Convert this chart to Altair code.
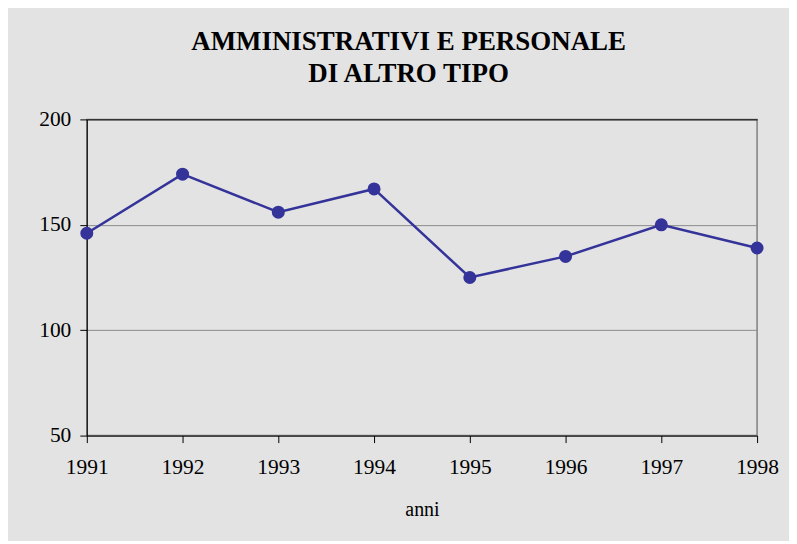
import altair as alt
import pandas as pd

years = ["1991", "1992", "1993", "1994", "1995", "1996", "1997", "1998"]
values = [146, 174, 156, 167, 125, 135, 150, 139]

df = pd.DataFrame({"anno": years, "valore": values})

FONT = "Liberation Serif"

x = alt.X("anno:O", scale=alt.Scale(type="point", padding=0),
          axis=alt.Axis(title="anni", labelAngle=0, labelFont=FONT, labelFontSize=21.5,
                        titleFont=FONT, titleFontSize=20, titleFontWeight="normal",
                        labelColor="black", titleColor="black",
                        domainColor="black", tickColor="black", tickSize=7,
                        labelPadding=14, titlePadding=22, grid=False))
y = alt.Y("valore:Q", scale=alt.Scale(domain=[50, 200], nice=False, zero=False),
          axis=alt.Axis(title=None, values=[50, 100, 150, 200], labelFont=FONT,
                        labelFontSize=21.5, labelColor="black", domainColor="black",
                        tickColor="black", tickSize=7, labelPadding=9,
                        grid=True,
                        gridColor=alt.condition(alt.datum.value == 200, alt.value("black"), alt.value("#8c8c8c")),
                        gridWidth=1))

line = alt.Chart(df).mark_line(color="#333399", strokeWidth=2.5).encode(x=x, y=y)
pts = alt.Chart(df).mark_circle(color="#333399", size=170, opacity=1).encode(x=x, y=y)

chart = (line + pts).properties(
    width=672, height=317,
    background="#e3e3e3",
    padding={"left": 30, "top": 19, "right": 10, "bottom": 20},
    title=alt.TitleParams(["AMMINISTRATIVI E PERSONALE", "DI ALTRO TIPO"],
                          font=FONT, fontSize=27, fontWeight="bold", color="black",
                          lineHeight=33, anchor="middle", frame="bounds", offset=20),
).configure_view(stroke="#808080", strokeWidth=1.5)

chart.save("out.html", embed_options={"renderer": "svg", "actions": False})
